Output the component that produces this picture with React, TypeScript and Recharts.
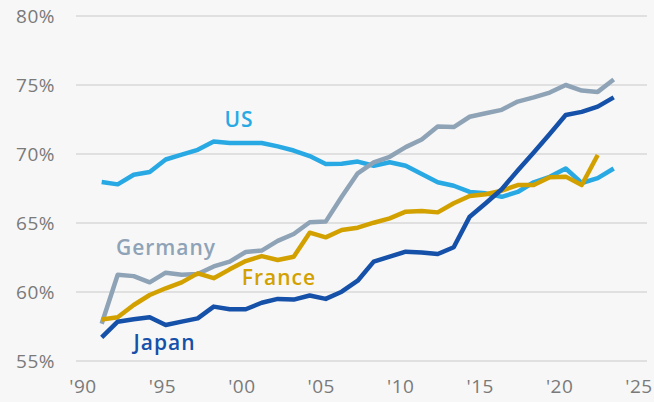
import React from 'react';
import { LineChart, Line, XAxis, YAxis, CartesianGrid, ReferenceDot } from 'recharts';

const years = [1991, 1992, 1993, 1994, 1995, 1996, 1997, 1998, 1999, 2000, 2001, 2002, 2003, 2004, 2005, 2006, 2007, 2008, 2009, 2010, 2011, 2012, 2013, 2014, 2015, 2016, 2017, 2018, 2019, 2020, 2021, 2022, 2023];

const us = [67.97, 67.8, 68.5, 68.7, 69.6, 69.95, 70.3, 70.9, 70.8, 70.8, 70.8, 70.55, 70.25, 69.85, 69.28, 69.3, 69.45, 69.15, 69.4, 69.15, 68.55, 67.95, 67.7, 67.25, 67.15, 66.9, 67.25, 67.95, 68.35, 68.95, 67.9, 68.25, 68.95];

const germany = [57.7, 61.25, 61.15, 60.7, 61.4, 61.25, 61.3, 61.85, 62.2, 62.9, 63.0, 63.7, 64.2, 65.05, 65.1, 66.9, 68.6, 69.4, 69.8, 70.5, 71.05, 72.0, 71.95, 72.7, 72.95, 73.2, 73.8, 74.1, 74.45, 75.0, 74.6, 74.5, 75.4];

const france = [58.0, 58.17, 59.06, 59.78, 60.27, 60.7, 61.35, 61.0, 61.64, 62.24, 62.6, 62.32, 62.56, 64.3, 63.96, 64.49, 64.66, 65.02, 65.34, 65.82, 65.87, 65.77, 66.43, 66.96, 67.08, 67.34, 67.75, 67.75, 68.31, 68.36, 67.75, 69.93, null];

const japan = [56.72, 57.85, 58.02, 58.17, 57.61, 57.85, 58.09, 58.94, 58.75, 58.75, 59.22, 59.5, 59.45, 59.75, 59.5, 60.02, 60.82, 62.2, 62.56, 62.92, 62.87, 62.75, 63.24, 65.46, 66.43, 67.45, 68.8, 70.1, 71.45, 72.83, 73.05, 73.43, 74.1];

const xTicks = [1990, 1995, 2000, 2005, 2010, 2015, 2020, 2025];
const xTickLabels = ["'90", "'95", "'00", "'05", "'10", "'15", "'20", "'25"];
const yTicks = [55, 60, 65, 70, 75, 80];

const COLORS = {
  us: '#29a9e4',
  germany: '#8fa3b7',
  france: '#d2a100',
  japan: '#1550a9',
};

const seriesLabels = [
  { text: 'US', year: 1999.58, value: 72.46, color: COLORS.us },
  { text: 'Germany', year: 1995.02, value: 63.22, color: COLORS.germany },
  { text: 'France', year: 2002.08, value: 61.05, color: COLORS.france },
  { text: 'Japan', year: 1994.93, value: 56.3, color: COLORS.japan },
];

const rows = years.map((year, i) => ({
  year,
  us: us[i],
  germany: germany[i],
  france: france[i],
  japan: japan[i],
}));

const FONT = '"Open Sans", sans-serif';

export default function App() {
  return (
    <div style={{ position: 'fixed', left: 0, top: 0, width: 654, height: 402, background: '#f7f7f7' }}>
      <LineChart width={654} height={402} data={rows} margin={{ top: 16, right: 7, bottom: 0, left: 0 }}>
        <CartesianGrid xAxisId="ticks" yAxisId="y" vertical={false} stroke="#d9d9d9" strokeWidth={1.5} />
        <XAxis
          xAxisId="ticks"
          dataKey="year"
          type="number"
          domain={[1989.56, 2025.5]}
          allowDataOverflow
          ticks={xTicks}
          interval={0}
          height={41}
          axisLine={false}
          tickLine={false}
          tickSize={6}
          tickMargin={13}
          tickFormatter={(v: number) => xTickLabels[xTicks.indexOf(v)] ?? ''}
          tick={{ fill: '#7a7a7a', fontSize: 19, fontFamily: FONT, letterSpacing: 0.5 }}
        />
        <XAxis
          xAxisId="data"
          dataKey="year"
          type="number"
          domain={[1989.394, 2025.08]}
          allowDataOverflow
          height={0}
          hide
        />
        <YAxis
          yAxisId="y"
          type="number"
          domain={[55, 80]}
          ticks={yTicks}
          interval={0}
          width={76}
          axisLine={false}
          tickLine={false}
          tickSize={6}
          tickMargin={15}
          tickFormatter={(v: number) => `${v}%`}
          tick={{ fill: '#7a7a7a', fontSize: 19, fontFamily: FONT, letterSpacing: 0.5 }}
        />
        <Line xAxisId="data" yAxisId="y" dataKey="us" stroke={COLORS.us} strokeWidth={4.5} dot={false} isAnimationActive={false} strokeLinejoin="round" />
        <Line xAxisId="data" yAxisId="y" dataKey="germany" stroke={COLORS.germany} strokeWidth={4.5} dot={false} isAnimationActive={false} strokeLinejoin="round" />
        <Line xAxisId="data" yAxisId="y" dataKey="france" stroke={COLORS.france} strokeWidth={4.5} dot={false} isAnimationActive={false} strokeLinejoin="round" />
        <Line xAxisId="data" yAxisId="y" dataKey="japan" stroke={COLORS.japan} strokeWidth={4.5} dot={false} isAnimationActive={false} strokeLinejoin="round" />
        {seriesLabels.map((l) => (
          <ReferenceDot
            key={l.text}
            xAxisId="data"
            yAxisId="y"
            x={l.year}
            y={l.value}
            r={0}
            ifOverflow="visible"
            shape={(p: any) => (
              <text
                x={p.cx}
                y={p.cy}
                dy="0.35em"
                textAnchor="middle"
                fill={l.color}
                fontSize={21}
                fontWeight={600}
                fontFamily={FONT}
                letterSpacing={1}
              >
                {l.text}
              </text>
            )}
          />
        ))}
      </LineChart>
    </div>
  );
}
